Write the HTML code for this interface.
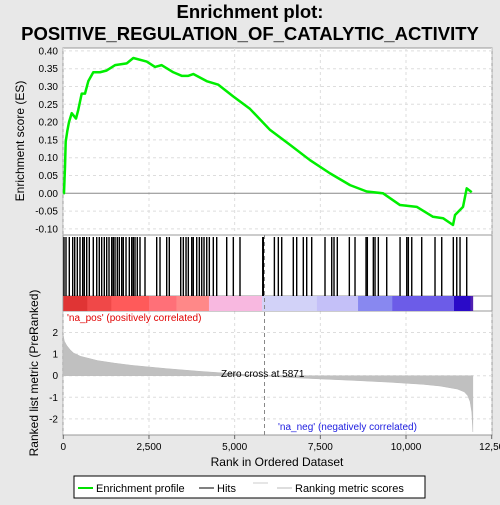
<!DOCTYPE html>
<html><head><meta charset="utf-8"><style>
body{margin:0;background:#e8e8e8;}
svg text{font-family:"Liberation Sans","DejaVu Sans",sans-serif;}
</style></head><body>
<svg id="c" width="500" height="500" xmlns="http://www.w3.org/2000/svg">
<rect width="500" height="500" fill="#e8e8e8"/>
<text x="250" y="18" text-anchor="middle" font-size="18.5" font-weight="bold">Enrichment plot:</text>
<text x="250" y="40" text-anchor="middle" font-size="18.5" font-weight="bold">POSITIVE_REGULATION_OF_CATALYTIC_ACTIVITY</text>
<rect x="63" y="48" width="429" height="387" fill="#fff" stroke="#999"/>
<g id="g"></g>
<text x="24" y="141" transform="rotate(-90 24 141)" text-anchor="middle" font-size="12">Enrichment score (ES)</text>
<text x="38" y="373" transform="rotate(-90 38 373)" text-anchor="middle" font-size="12">Ranked list metric (PreRanked)</text>
<text x="277" y="466" text-anchor="middle" font-size="12">Rank in Ordered Dataset</text>
<text x="67" y="321" font-size="10" fill="#e00000">'na_pos' (positively correlated)</text>
<text x="278" y="430" font-size="10" fill="#2020e0">'na_neg' (negatively correlated)</text>
<text x="221" y="377" font-size="10">Zero cross at 5871</text>
<g>
<rect x="74" y="476" width="351" height="22" fill="#fff" stroke="#000"/>
<line x1="78" y1="488" x2="93" y2="488" stroke="#00e000" stroke-width="2"/>
<text x="96" y="492" font-size="11">Enrichment profile</text>
<line x1="199" y1="488" x2="214" y2="488" stroke="#000"/>
<text x="217" y="492" font-size="11">Hits</text>
<line x1="253" y1="483" x2="268" y2="483" stroke="#ccc"/>
<line x1="277" y1="488" x2="292" y2="488" stroke="#bbb"/>
<text x="295" y="492" font-size="11">Ranking metric scores</text>
</g>
</svg>
<script>
const esRanks=[0,20,50,70,117,166,245,371,438,537,633,730,875,1071,1266,1509,1850,2043,2434,2676,2871,3210,3455,3648,3793,4184,4523,4961,5448,6032,6617,7200,7784,8367,8853,9329,9825,10312,10788,11080,11371,11430,11663,11771,11917];
const esValues=[0,0,0.075,0.145,0.175,0.2,0.225,0.21,0.235,0.28,0.28,0.315,0.34,0.34,0.345,0.36,0.365,0.38,0.37,0.355,0.36,0.34,0.33,0.33,0.335,0.315,0.305,0.272,0.237,0.178,0.136,0.093,0.056,0.023,0.005,0.0,-0.033,-0.038,-0.066,-0.07,-0.089,-0.061,-0.038,0.014,0.003];
const hitRanks=[20,79,175,274,333,409,487,566,613,683,759,875,975,1050,1120,1196,1266,1334,1412,1459,1509,1576,1634,1704,1751,1830,1926,1996,2043,2092,2159,2238,2384,2725,2822,3017,3093,3426,3502,3581,3648,3747,3793,3893,3969,4039,4106,4185,4261,4377,4476,4768,4961,5156,5819,5836,6159,6274,6373,6711,6810,7003,7102,7248,7636,7832,7899,7995,8346,8512,8833,8871,9046,9096,9192,9437,9826,10021,10068,10167,10458,10846,11042,11380,11480,11576,11771];
const metricRanks=[0,30,100,200,300,500,1000,1500,2000,3000,4000,5000,5871,6500,7500,8500,9500,10500,11000,11500,11700,11800,11870,11920,11950];
const metricValues=[1.85,1.6,1.4,1.2,1.05,0.9,0.7,0.58,0.48,0.33,0.2,0.09,0,-0.08,-0.15,-0.22,-0.3,-0.4,-0.48,-0.62,-0.75,-0.92,-1.2,-1.7,-2.6];
const xTicks=[0,2500,5000,7500,10000,12500];
const xTickLabels=["0","2,500","5,000","7,500","10,000","12,50"];
const esTicks=[-0.1,-0.05,0,0.05,0.1,0.15,0.2,0.25,0.3,0.35,0.4];
const mTicks=[-2,-1,0,1,2];
const N=11950, zeroCross=5871;
const X=r=>63.3+r*0.034272;
const YE=v=>193.3-v*356;
const YM=v=>375.7-v*21.6;
const g=document.getElementById('g');
const NS='http://www.w3.org/2000/svg';
function mk(t,a,parent){const e=document.createElementNS(NS,t);for(const k in a)e.setAttribute(k,a[k]);(parent||g).appendChild(e);return e;}
xTicks.forEach((t,i)=>{
 [[48,235],[311,435]].forEach(([a,b])=>{const l=mk('line',{x1:X(t),x2:X(t),y1:a,y2:b,stroke:'#ddd','stroke-dasharray':'3,3'});});
 const tk=mk('line',{x1:X(t),x2:X(t),y1:435,y2:439,stroke:'#666'});
 const tx=mk('text',{x:X(t),y:450,'text-anchor':'middle','font-size':'10'});tx.textContent=xTickLabels[i];
 
});
esTicks.forEach(t=>{
 const l=mk('line',{x1:63,x2:492,y1:YE(t),y2:YE(t),stroke:Math.abs(t)<1e-9?'#888':'#ddd','stroke-dasharray':Math.abs(t)<1e-9?'':'3,3'});
 
 const tx=mk('text',{x:58,y:YE(t)+3.5,'text-anchor':'end','font-size':'10'});tx.textContent=t.toFixed(2);
 
});
mTicks.forEach(t=>{
 const l=mk('line',{x1:63,x2:492,y1:YM(t),y2:YM(t),stroke:'#ddd','stroke-dasharray':'3,3'});
 
 const tx=mk('text',{x:58,y:YM(t)+3.5,'text-anchor':'end','font-size':'10'});tx.textContent=String(t);
 
});
[235,296,311].forEach(y=>{const l=mk('line',{x1:63,x2:492,y1:y,y2:y,stroke:'#999'});});
const cb=[[0,'#e03434'],[700,'#f04848'],[1400,'#ff5a5a'],[2500,'#ff7078'],[3300,'#ff8888'],[4250,'#f8b8e0'],[5800,'#d2d2f8'],[7400,'#c4c0f8'],[8600,'#8888f0'],[9600,'#6c5ce8'],[11400,'#2a0ac8'],[11880,'#5020b0']];
cb.forEach((c,i)=>{const e=i<cb.length-1?cb[i+1][0]:N;const r=mk('rect',{x:X(c[0]),y:296,width:X(e)-X(c[0])+0.3,height:15,fill:c[1]});});
hitRanks.forEach(h=>{const l=mk('line',{x1:X(h),x2:X(h),y1:237,y2:296,stroke:'#000','stroke-width':1.4});});
let d='M'+X(0)+','+YM(0);
metricRanks.forEach((r,i)=>{d+=' L'+X(r)+','+YM(metricValues[i]);});
d+=' L'+X(N)+','+YM(0)+' Z';
const ma=mk('path',{d:d,fill:'#c0c0c0',stroke:'#bbb','stroke-width':0.5});

const zc=mk('line',{x1:X(zeroCross),x2:X(zeroCross),y1:235,y2:435,stroke:'#888','stroke-dasharray':'4,3'});

const pts=esRanks.map((r,i)=>X(r)+','+YE(esValues[i])).join(' ');
const es=mk('polyline',{points:pts,fill:'none',stroke:'#00ee00','stroke-width':2.5,'stroke-linejoin':'round'});

</script>
</body></html>
